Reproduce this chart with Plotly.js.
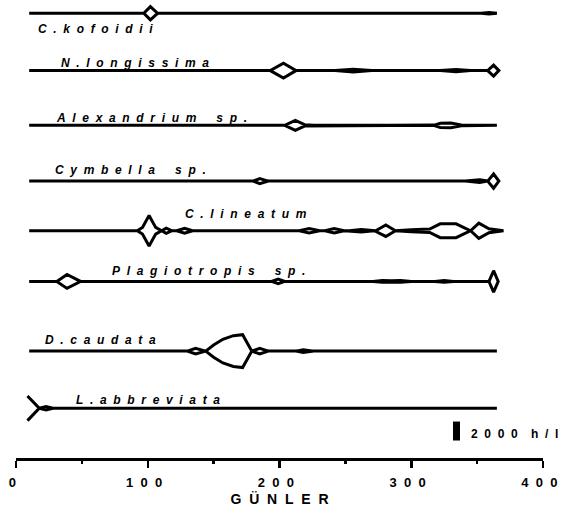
<!DOCTYPE html>
<html><head><meta charset="utf-8">
<script src="https://cdn.plot.ly/plotly-3.0.1.min.js"></script>
<style>html,body{margin:0;padding:0;background:#fff}#chart{width:576px;height:507px}</style>
</head><body><div id="chart"></div>
<script>
// ---- data (days of year, abundance in h/l) ----
const speciesNames = ["C.kofoidii","N.longissima","Alexandrium sp.","Cymbella sp.","C.lineatum","Plagiotropis sp.","D.caudata","L.abbreviata"];

const kofoidiiDays  = [10, 97, 102, 107.5, 353, 359, 365];
const kofoidiiCells = [0, 0, 1400, 0, 0, 150, 0];

const longissimaDays  = [10, 193, 203, 212.5, 242, 256, 270, 322, 334, 345, 358, 362.5, 366.5];
const longissimaCells = [0, 0, 1580, 0, 0, 300, 0, 0, 250, 0, 0, 1150, 0];

const alexandriumDays  = [10, 204, 212, 219, 226, 317, 322, 330, 338, 343, 365];
const alexandriumCells = [0, 0, 1050, 150, 0, 0, 450, 480, 100, 0, 0];

const cymbellaDays  = [10, 180, 185, 191.5, 341, 352, 358, 362.5, 366.5];
const cymbellaCells = [0, 0, 550, 0, 0, 280, 0, 1500, 0];

const lineatumDays  = [10, 92, 96, 101, 106, 110.5, 114, 118.5, 122, 128, 134, 215, 222.5, 230.5, 234.5, 241.5, 249, 253, 262, 272, 273, 280.7, 288, 300, 314, 322, 334, 345, 351.3, 359, 370];
const lineatumCells = [0, 0, 700, 3200, 700, 0, 550, 0, 0, 520, 0, 0, 480, 0, 0, 470, 0, 0, 250, 0, 0, 1200, 0, 200, 350, 1450, 1450, 0, 1600, 400, 0];

const plagiotropisDays  = [10, 31, 38.7, 49, 194, 199, 204, 271, 278, 285, 292, 300, 318, 325, 332, 359, 362.5, 366];
const plagiotropisCells = [0, 0, 1470, 0, 0, 500, 0, 0, 200, 120, 200, 0, 0, 200, 0, 0, 2250, 0];

const caudataDays  = [10, 130, 136.3, 144, 150, 157, 165, 172, 179, 185, 191.5, 212.5, 218, 226, 365];
const caudataCells = [0, 0, 590, 0, 1300, 2500, 3250, 3470, 0, 590, 0, 0, 280, 0, 0];

const abbreviataDays  = [8.7, 17.7, 22.8, 28, 365];
const abbreviataCells = [2600, 0, 350, 0, 0];

const xTickVals   = [0, 100, 200, 300, 400];
const xTickLabels = ["0", "100", "200", "300", "400"];
const scaleValue = 2000;
const scaleUnit = "h/l";
const axisTitle = "GÜNLER";

// ---- layout geometry (styling, not data) ----
const W = 576, H = 507;
const plotLeft = 16, plotRight = 543, plotTop = 0, plotBottom = 458.5;
const pxPerDay = (plotRight - plotLeft) / 400;
const hlPerPx = scaleValue / 19;           // 2000 h/l spans 19 px
const yMax = (plotBottom - plotTop) * hlPerPx;
const rowBaselinePx = [13.3, 70.7, 125.5, 181.3, 231, 281.7, 351.5, 408.7];
const labelPos = [[35.7, 29.2], [58.8, 62.8], [54, 117.8], [52.6, 170.3], [183, 214.7], [110, 271.3], [43.4, 340.5], [73.5, 400.8]];
const scaleBarPx = {x: 456.5, cy: 431.5};
const scaleTextPx = {x: 469, cy: 434.3};

const pxToDay = px => (px - plotLeft) / pxPerDay;
const pxToY = py => (plotBottom - py) * hlPerPx;
const gap = '\u00A0\u00A0';
const spaced = s => Array.from(s).map(c => c === ' ' ? gap : c).join(gap);

const series = [
  [kofoidiiDays, kofoidiiCells], [longissimaDays, longissimaCells],
  [alexandriumDays, alexandriumCells], [cymbellaDays, cymbellaCells],
  [lineatumDays, lineatumCells], [plagiotropisDays, plagiotropisCells],
  [caudataDays, caudataCells], [abbreviataDays, abbreviataCells]
];

const traces = series.map(([d, v], i) => {
  const base = pxToY(rowBaselinePx[i]);
  const up = v.map(a => base + a / 2);
  const lo = v.map(a => base - a / 2);
  return {
    type: 'scatter', mode: 'lines', name: speciesNames[i],
    x: d.concat(d.slice().reverse()),
    y: up.concat(lo.slice().reverse()),
    line: {color: '#000', width: 3, shape: 'linear'},
    hoverinfo: 'skip', showlegend: false
  };
});

const scaleCenter = pxToY(scaleBarPx.cy);
traces.push({
  type: 'scatter', mode: 'lines', name: 'scale',
  x: [pxToDay(scaleBarPx.x), pxToDay(scaleBarPx.x)],
  y: [scaleCenter - scaleValue / 2, scaleCenter + scaleValue / 2],
  line: {color: '#000', width: 7}, hoverinfo: 'skip', showlegend: false, cliponaxis: false
});

const fontFam = '"Liberation Sans", Arial, sans-serif';
const annotations = speciesNames.map((n, i) => ({
  x: pxToDay(labelPos[i][0]), y: pxToY(labelPos[i][1]), xref: 'x', yref: 'y',
  xanchor: 'left', yanchor: 'middle', showarrow: false, text: spaced(n),
  font: {family: fontFam, size: 12, color: '#000', weight: 700, style: 'italic'}
}));
annotations.push({
  x: pxToDay(scaleTextPx.x), y: pxToY(scaleTextPx.cy), xref: 'x', yref: 'y',
  xanchor: 'left', yanchor: 'middle', showarrow: false,
  text: spaced(String(scaleValue)) + gap + gap + spaced(scaleUnit),
  font: {family: fontFam, size: 12, color: '#000', weight: 700}
});

const layout = {
  width: W, height: H,
  margin: {l: plotLeft, r: W - plotRight, t: plotTop, b: H - plotBottom, pad: 0},
  paper_bgcolor: '#fff', plot_bgcolor: '#fff',
  showlegend: false,
  xaxis: {
    range: [0, 400], fixedrange: true, showgrid: false, zeroline: false,
    showline: true, linecolor: '#000', linewidth: 3,
    ticks: 'outside', ticklen: 7, tickwidth: 2.5, tickcolor: '#000',
    tickvals: xTickVals, ticktext: xTickLabels.map(t => spaced(t) + gap),
    ticklabelstandoff: 3,
    tickfont: {family: fontFam, size: 13, color: '#000', weight: 700},
    minor: {tickvals: [50, 150, 250, 350], ticks: 'outside', ticklen: 3, tickwidth: 2.5, tickcolor: '#000', showgrid: false},
    title: {text: '\u00A0\u00A0\u00A0\u00A0\u00A0' + spaced(axisTitle), font: {family: fontFam, size: 14, color: '#000', weight: 700}, standoff: 11},
    automargin: false
  },
  yaxis: {range: [0, yMax], visible: false, fixedrange: true, showgrid: false, zeroline: false},
  annotations: annotations
};

Plotly.newPlot('chart', traces, layout, {staticPlot: true, displayModeBar: false});
</script>
</body></html>
